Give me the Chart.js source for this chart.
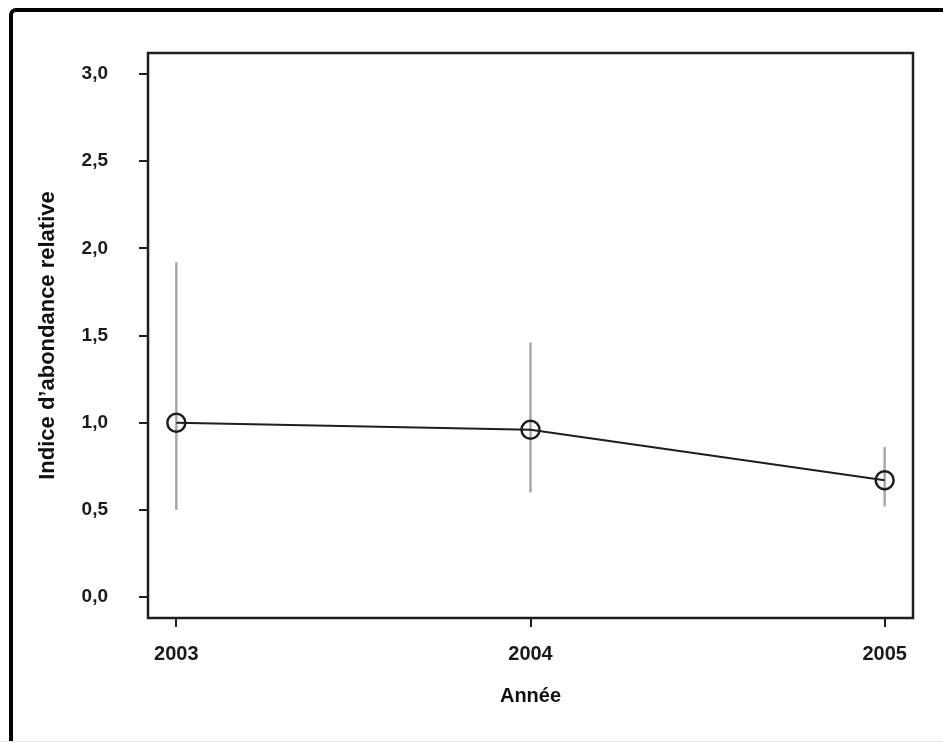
<!DOCTYPE html>
<html lang="fr">
<head>
<meta charset="utf-8">
<title>Indice d'abondance relative</title>
<script src="https://cdn.jsdelivr.net/npm/chart.js@4/dist/chart.umd.min.js"></script>
<style>
  html, body { margin: 0; padding: 0; background: #fff; overflow: hidden; }
  #wrap { position: relative; width: 943px; height: 742px; overflow: hidden; }
  #frame {
    position: absolute; left: 9px; top: 8px; width: 1000px; height: 800px;
    border: 4px solid #000; border-radius: 7px; box-sizing: border-box;
  }
  #base { position: absolute; left: 0; top: 741px; width: 943px; height: 1px; background: #e4e4e4; }
  canvas { position: absolute; left: 0; top: 0; }
</style>
</head>
<body>
<div id="wrap">
  <div id="frame"></div>
  <div id="base"></div>
  <canvas id="chart" width="943" height="742"></canvas>
</div>
<script>
// Annual relative abundance index with its confidence interval
const years = [2003, 2004, 2005];
const indexValues = [1.00, 0.96, 0.67];
const lowerBounds = [0.50, 0.60, 0.52];
const upperBounds = [1.92, 1.46, 0.86];
const yTicks = [0, 0.5, 1.0, 1.5, 2.0, 2.5, 3.0];
const xTicks = [2003, 2004, 2005];

const INK = '#1e1e1e';
const FONT = 'Liberation Sans, Arial, sans-serif';

// Vertical interval bars, one dataset per year
const intervalSets = years.map((yr, i) => ({
  data: [{ x: yr, y: lowerBounds[i] }, { x: yr, y: upperBounds[i] }],
  showLine: true,
  borderColor: '#a8a8a8',
  borderWidth: 2.5,
  pointRadius: 0,
  pointHoverRadius: 0,
  order: 2
}));

const mainSet = {
  data: years.map((yr, i) => ({ x: yr, y: indexValues[i] })),
  showLine: true,
  borderColor: INK,
  borderWidth: 2,
  pointRadius: 9,
  pointBorderWidth: 2.5,
  pointBorderColor: INK,
  pointBackgroundColor: 'rgba(0,0,0,0)',
  order: 1
};

// Full rectangle around the plotting region
const plotBox = {
  id: 'plotBox',
  afterDraw(chart) {
    const { ctx, chartArea: a } = chart;
    ctx.save();
    ctx.strokeStyle = INK;
    ctx.lineWidth = 2.5;
    ctx.strokeRect(a.left, a.top, a.right - a.left, a.bottom - a.top);
    ctx.restore();
  }
};

new Chart(document.getElementById('chart'), {
  type: 'scatter',
  data: { datasets: [...intervalSets, mainSet] },
  plugins: [plotBox],
  options: {
    responsive: false,
    animation: false,
    devicePixelRatio: 1,
    layout: { padding: { left: 0, top: 53, right: 30, bottom: 0 } },
    plugins: { legend: { display: false }, tooltip: { enabled: false } },
    scales: {
      x: {
        type: 'linear',
        min: 2002.92,
        max: 2005.08,
        afterBuildTicks: s => { s.ticks = xTicks.map(v => ({ value: v })); },
        afterFit: s => { s.height = 124; },
        border: { display: false },
        grid: { drawOnChartArea: false, drawTicks: true, tickLength: 9, color: INK, lineWidth: 2 },
        ticks: {
          padding: 15,
          color: '#1a1a1a',
          font: { family: FONT, size: 20, weight: 'bold' },
          callback: v => String(v)
        },
        title: {
          display: true,
          text: 'Année',
          color: '#111',
          font: { family: FONT, size: 20, weight: 'bold' },
          padding: { top: 0, bottom: 34 }
        }
      },
      y: {
        type: 'linear',
        min: -0.12,
        max: 3.12,
        afterBuildTicks: s => { s.ticks = yTicks.map(v => ({ value: v })); },
        afterFit: s => { s.width = 148; },
        border: { display: false },
        grid: { drawOnChartArea: false, drawTicks: true, tickLength: 9, color: INK, lineWidth: 2 },
        ticks: {
          padding: 31,
          color: '#1a1a1a',
          font: { family: FONT, size: 19, weight: 'bold' },
          callback: v => v.toFixed(1).replace('.', ',')
        },
        title: {
          display: true,
          text: 'Indice d\u2019abondance relative',
          color: '#111',
          font: { family: FONT, size: 22, weight: 'bold' },
          padding: { top: 35, bottom: 0 }
        }
      }
    }
  }
});
</script>
</body>
</html>
